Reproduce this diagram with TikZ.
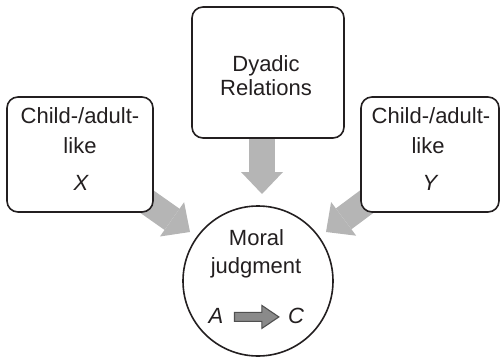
\documentclass[tikz,border=0pt]{standalone}
\usepackage{fontspec}
\setmainfont{Liberation Sans}
\usetikzlibrary{arrows.meta,calc,backgrounds}

\definecolor{ink}{HTML}{231F20}
\definecolor{flowgray}{HTML}{B5B5B5}
\definecolor{tipfill}{HTML}{8A8A8A}
\definecolor{tipline}{HTML}{505050}

\tikzset{
  panel/.style={draw=ink, line width=1.6pt, rounded corners=11pt, fill=white, inner sep=0pt},
  bubble/.style={draw=ink, line width=1.6pt, circle, fill=white, inner sep=0pt, minimum size=150pt},
  label/.style={inner sep=0pt, anchor=base, text=ink, font=\fontsize{22}{26}\selectfont},
  flow/.style={draw=flowgray, line width=26pt,
    -{Triangle[width=42pt, length=22pt, line width=0pt]}},
  causal/.style={fill=tipfill, draw=tipline, line width=1.1pt, line join=miter}
}

\begin{document}
\begin{tikzpicture}[x=1pt, y=-1pt]
  \useasboundingbox (0,0) rectangle (500,356);

  % frames for the three influences and the judgment
  \path (80,154.5)  node[panel, minimum width=146pt, minimum height=115pt] (left) {};
  \path (268,72.5)  node[panel, minimum width=152pt, minimum height=131pt] (dyad) {};
  \path (430,154.5) node[panel, minimum width=138pt, minimum height=115pt] (right) {};
  \path (258,281)   node[bubble] (moral) {};

  % tips of the broad grey arrows
  \coordinate (tipL) at (190,232);
  \coordinate (tipT) at (262,194);
  \coordinate (tipR) at (326,232);

  % broad arrows run underneath the frames
  \begin{scope}[on background layer]
    \draw[flow] (left.center) -- (tipL);
    \draw[flow] ([xshift=-6pt]dyad.center) -- (tipT);
    \draw[flow] (right.center) -- (tipR);
  \end{scope}

  % left influence
  \node[label] (l1) at (80,123) {Child-/adult-};
  \node[label] (l2) at (80,153) {like};
  \node[label] (l3) at (81,190) {\itshape X};

  % dyadic relations
  \node[label] (d1) at (266,71) {Dyadic};
  \node[label] (d2) at (266,95) {Relations};

  % right influence
  \node[label] (r1) at (431,123) {Child-/adult-};
  \node[label] (r2) at (428,153) {like};
  \node[label] (r3) at (430,190) {\itshape Y};

  % moral judgment
  \node[label] (m1) at (256.5,245) {Moral};
  \node[label] (m2) at (256,273) {judgment};
  \node[label] (A) at (216,323) {\itshape A};
  \node[label] (C) at (296,323) {\itshape C};

  % small outlined arrow from A to C
  \coordinate (s) at ($(A.east)+(11,1.5)$);
  \coordinate (e) at ($(C.west)+(-9,1.5)$);
  \draw[causal] ($(s)+(0,-4.5)$) -- ($(e)+(-17,-4.5)$) -- ($(e)+(-17,-11.5)$)
    -- (e) -- ($(e)+(-17,11.5)$) -- ($(e)+(-17,4.5)$) -- ($(s)+(0,4.5)$) -- cycle;
\end{tikzpicture}
\end{document}
